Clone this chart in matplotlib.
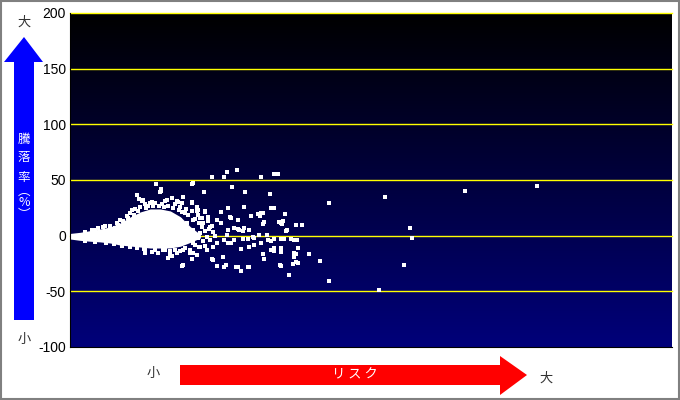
import numpy as np
import matplotlib
matplotlib.use("Agg")
import matplotlib.pyplot as plt
from matplotlib.patches import Polygon, Rectangle
from matplotlib.colors import LinearSegmentedColormap

plt.rcParams['font.family'] = ['Liberation Sans', 'Noto Sans CJK JP', 'DejaVu Sans']
plt.rcParams['axes.unicode_minus'] = False

# y axis ticks
yticks = [-100, -50, 0, 50, 100, 150, 200]

# dense core of the cloud (risk, lower/upper return)
core_x = [0, 1, 2, 3, 4, 5, 6, 7, 8, 9, 10, 11, 12, 13]
core_top = [2.0, 3.0, 4.5, 6.0, 7.8, 11.4, 16.8, 21.3, 24.0, 24.0, 22.2, 17.0, 8.0, 1.0]
core_bot = [-3.0, -4.2, -5.0, -5.6, -6.6, -8.4, -9.3, -10.2, -11.1, -11.1, -11.1, -9.5, -6.0, -2.0]

# individual funds: risk / return(%)
risk = [46.5, 39.4, 31.4, 33.9, 34.1, 33.3, 30.8, 25.8, 25.8, 22.5, 23.1, 21.4, 21.2,
        21.1, 21.5, 21.3, 22.0, 22.6, 22.7, 22.5, 23.8, 22.2, 22.7, 24.9, 21.0, 21.8,
        14.2, 15.3, 15.6, 16.6, 19.0, 20.3, 20.7, 12.2, 13.4, 16.1, 17.4, 19.9, 11.3,
        12.2, 12.7, 12.8, 13.5, 15.9, 17.3, 18.0, 18.7, 19.2, 19.2, 20.3, 20.8, 21.0,
        21.6, 16.7, 17.2, 17.8, 15.6, 17.2, 18.2, 18.8, 19.6, 20.0, 21.0, 16.0, 17.0,
        17.8, 18.3, 20.0, 20.3, 19.2, 21.0, 14.3, 15.2, 19.3, 22.3, 15.3, 17.8, 16.7,
        17.0, 11.2, 12.2, 12.3,
        8.6, 9.1, 9.1, 6.7, 6.9, 7.2, 7.5, 8.2, 9.5, 10.2, 10.8, 11.2, 5.7, 6.2, 5.0,
        4.7, 4.5, 3.5, 2.8, 2.5, 7.5, 8.2, 8.8, 9.5, 10.2, 9.8, 7.5, 9.0, 7.3, 8.0,
        9.7, 10.7, 12.2, 12.7, 13.5, 11.8, 11.2, 11.0, 11.7, 12.3, 13.0, 13.8, 14.7,
        15.0, 15.7, 16.0, 13.3, 14.0, 12.3, 13.0, 13.7, 14.3, 15.0, 15.7, 16.3, 16.8,
        17.3, 19.0, 20.0, 11.7, 12.3, 13.0, 13.7, 14.3, 14.7, 15.3, 15.7, 16.3, 17.7,
        18.3, 19.0, 19.7, 20.3, 22.3, 11.3, 12.0, 12.7, 10.7, 10.0, 11.3, 14.2, 14.7,
        15.5, 16.5, 17.7, 20.3, 21.0, 22.3, 22.5, 20.9, 16.7, 12.3, 18.9, 19.3,
        1.5, 2.2, 3.3, 4.0, 4.8, 5.3, 5.8, 6.4, 6.8, 7.6, 8.3, 8.9, 9.4, 10.3, 10.9,
        11.5, 12.5, 12.9, 13.2, 13.5, 12.8, 13.3,
        1.5, 2.5, 3.6, 4.4, 5.2, 6.0, 6.7, 7.4, 8.5, 9.3, 10.5, 11.5, 12.5, 12.9,
        6.0, 6.5, 7.0, 7.8, 8.5, 9.2, 9.8, 10.5, 11.0, 11.6, 12.2, 12.8, 13.2, 13.8,
        14.2, 12.0, 11.0, 10.0, 13.5, 14.0, 14.5, 13.9]
ret = [44.7, 40.2, 34.8, 6.9, -2.1, -26.3, -48.8, 29.4, -40.7, 9.6, 9.6, 19.5, 13.2,
       10.5, 4.2, -3.0, -3.0, -3.9, -11.1, -16.4, -16.4, -25.4, -24.5, -22.7, -27.2, -35.3,
       52.7, 52.7, 57.2, 59.0, 52.7, 55.4, 55.4, 46.5, 39.3, 43.8, 39.3, 37.5, 34.8,
       29.4, 25.8, 23.1, 21.3, 16.8, 25.8, 17.7, 19.5, 20.4, 10.5, 24.9, 12.3, 11.4,
       5.1, 6.0, 4.2, 5.1, 0.6, -3.0, -1.2, 0.3, 0.6, -4.8, -3.0, -6.6, -12.0,
       -10.2, -8.4, -12.8, -11.1, -16.4, -14.6, -21.8, -19.1, -20.9, -19.1, -28.1, -28.1, -28.1,
       -31.7, -27.2, -20.9, -15.5,
       46.5, 42.0, 40.2, 36.6, 33.0, 31.2, 28.5, 30.3, 31.2, 33.9, 30.3, 29.4, 17.7, 23.1, 14.1,
       11.4, 6.9, 8.7, 6.9, 5.1, -12.8, -14.6, -15.5, -12.8, -18.2, -20.0, -15.5, 39.3, 32.1, 29.4,
       32.1, 31.2, 30.3, 22.2, 22.2, 18.6, 21.3, 14.1, 11.4, 14.1, 15.9, 16.8, 14.1,
       21.3, 24.9, 15.9, 11.4, 7.8, 5.1, 2.4, -1.2, 3.3, 11.4, 5.1, 6.9, 5.1,
       6.9, 20.4, 24.9, -3.9, -6.6, -10.2, -12.8, -10.2, -6.6, -3.9, -6.6, -3.9, -3.0,
       -2.1, -6.6, -3.9, -3.0, -3.9, -12.8, -15.5, -17.3, -15.5, -17.3, -26.3, -20.9, -27.2,
       -26.3, -28.1, -28.1, -13.7, -11.1, -15.5, -23.6, -26.3, 14.1, 47.4, 17.7, 12.3,
       3.5, 5.0, 7.5, 9.0, 10.0, 13.5, 15.5, 19.0, 22.0, 24.5, 26.5, 27.0, 26.0, 25.0, 23.0,
       20.0, 15.0, 11.0, 8.0, 4.0, -2.0, -5.0,
       -4.5, -5.5, -6.5, -7.5, -9.5, -10.5, -11.5, -12.0, -12.5, -13.0, -12.5, -11.5, -8.5, -10.0,
       20.0, 24.0, 26.0, 27.0, 29.0, 28.0, 27.0, 28.0, 26.0, 24.0, 22.0, 19.0, 16.0, 13.0,
       9.0, -13.0, -14.0, -14.0, -9.0, -4.0, 0.0, 6.0]

fig = plt.figure(figsize=(6.8, 4.0), dpi=100)
ax = fig.add_axes([70 / 680, 53 / 400, 602 / 680, 334 / 400])

# gradient background black -> navy
grad = np.linspace(0, 1, 256).reshape(-1, 1)
cmap = LinearSegmentedColormap.from_list('bg', ['#000000', '#00007a'])
ax.imshow(grad, aspect='auto', cmap=cmap, extent=[0, 60, -100, 200], zorder=0, origin='upper')
ax.set_ylim(-100, 200)
ax.set_xlim(0, 60)

for t in [-50, 0, 50, 100, 150, 200]:
    ax.axhline(t, color='#ffff00', lw=1.0, zorder=1, clip_on=False)

ax.fill_between(core_x, core_bot, core_top, color='white', lw=0, zorder=2)
ax.scatter(risk, ret, s=5, marker='s', color='white', linewidths=0, zorder=3)

ax.set_yticks(yticks)
ax.set_xticks([])
ax.tick_params(axis='y', length=0, pad=3, labelsize=10, colors='black')
for s in ['top', 'right']:
    ax.spines[s].set_visible(False)
ax.spines['left'].set_color('black')
ax.spines['bottom'].set_color('black')

# overlay for arrows and labels, in pixels
ov = fig.add_axes([0, 0, 1, 1], zorder=5)
ov.set_xlim(0, 680)
ov.set_ylim(400, 0)
ov.axis('off')
ov.patch.set_alpha(0)

ov.add_patch(Polygon([(14, 320), (14, 62), (4, 62), (24, 37), (43, 62), (34, 62), (34, 320)],
                     closed=True, color='#0000ff', lw=0))
ov.add_patch(Polygon([(180, 365), (500, 365), (500, 356), (527, 375), (500, 395), (500, 385), (180, 385)],
                     closed=True, color='#ff0000', lw=0))

jp = ['Noto Sans CJK JP', 'DejaVu Sans']
label_chars = ['騰', '落', '率', '︵', '%', '︶']
label_y = [139, 158, 177, 191, 203, 215]
for ch, yy in zip(label_chars, label_y):
    ov.text(24, yy, ch, color='white', fontsize=9, ha='center', va='center', family=jp)
ov.text(24, 22, '大', color='#333333', fontsize=9.5, ha='center', va='center', family=jp)
ov.text(24, 340, '小', color='#333333', fontsize=9.5, ha='center', va='center', family=jp)
ov.text(153, 373, '小', color='#333333', fontsize=9.5, ha='center', va='center', family=jp)
ov.text(546, 378, '大', color='#333333', fontsize=9.5, ha='center', va='center', family=jp)
ov.text(355, 375, 'リ ス ク', color='white', fontsize=9.5, ha='center', va='center', family=jp)

ov.add_patch(Rectangle((1, 1), 678, 398, fill=False, edgecolor='#808080', lw=1.5))

fig.savefig('out.png', dpi=100)
